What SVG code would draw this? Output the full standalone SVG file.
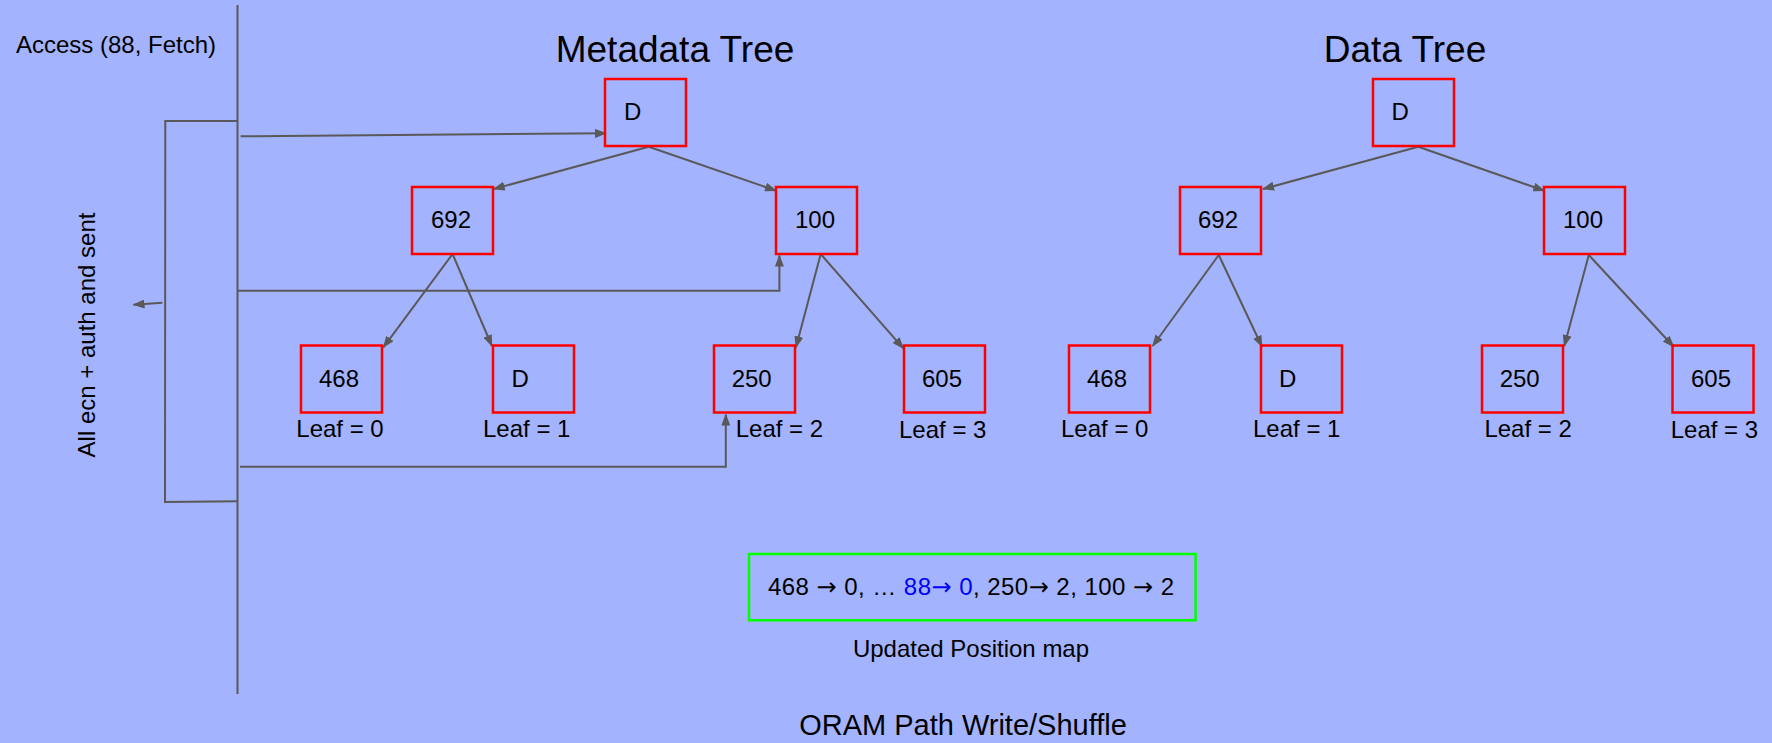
<svg xmlns="http://www.w3.org/2000/svg" width="1772" height="743" viewBox="0 0 1772 743">
<style>
text{font-family:"Liberation Sans",Arial,sans-serif;fill:#000}
.t{font-size:24px}
.c{text-anchor:middle}
.n{fill:none;stroke:#ff0000;stroke-width:2.5}
.e{fill:none;stroke:#595959;stroke-width:2}
.a{marker-end:url(#ah)}
.blue{fill:#0000ff}
.ar{font-family:"DejaVu Sans",sans-serif}
</style>
<defs>
<marker id="ah" markerUnits="userSpaceOnUse" markerWidth="12" markerHeight="9" refX="11" refY="4.5" orient="auto">
<path d="M0,0 L12,4.5 L0,9 z" fill="#595959"/>
</marker>
</defs>
<rect x="0" y="0" width="1772" height="743" fill="#a4b3fd"/>

<g id="titles">
<text x="675" y="62" class="c" font-size="37">Metadata Tree</text>
<text x="1405" y="62" class="c" font-size="37">Data Tree</text>
<text x="16" y="53" class="t">Access (88, Fetch)</text>
<text transform="translate(95,335) rotate(-90)" class="t c">All ecn + auth and sent</text>
<text x="963" y="735" class="c" font-size="29">ORAM Path Write/Shuffle</text>
</g>

<g id="connectors">
<line class="e" x1="237.5" y1="5" x2="237.5" y2="694"/>
<polyline class="e" points="238,121 165.3,121 165,502 238,501.3"/>
<line class="e a" x1="240.6" y1="136.3" x2="606" y2="133.3"/>
<polyline class="e a" points="238,290.7 779.4,290.7 779.4,255.5"/>
<polyline class="e a" points="240,466.7 725.8,466.7 725.8,414.5"/>
<line class="e a" x1="162.3" y1="302.7" x2="133.5" y2="304.8"/>

<line class="e a" x1="648.7" y1="146.7" x2="493.7" y2="189"/>
<line class="e a" x1="648.7" y1="146.7" x2="776" y2="190.7"/>
<line class="e a" x1="452.6" y1="254" x2="383.4" y2="347.3"/>
<line class="e a" x1="452.6" y1="254" x2="491.9" y2="346"/>
<line class="e a" x1="820.7" y1="254" x2="796" y2="347.3"/>
<line class="e a" x1="820.7" y1="254" x2="903.3" y2="348.3"/>

<line class="e a" x1="1418.3" y1="146.7" x2="1263" y2="189"/>
<line class="e a" x1="1418.3" y1="146.7" x2="1544.2" y2="190.7"/>
<line class="e a" x1="1218.75" y1="255" x2="1152.7" y2="346"/>
<line class="e a" x1="1218.75" y1="255" x2="1262" y2="346.7"/>
<line class="e a" x1="1588.8" y1="255" x2="1564.3" y2="346"/>
<line class="e a" x1="1588.8" y1="255" x2="1673.7" y2="346.7"/>
</g>

<g id="m-root"><rect class="n" x="605" y="79" width="81" height="67"/><text x="624" y="120" class="t">D</text></g>
<g id="m-692"><rect class="n" x="412" y="187" width="81" height="67"/><text x="451" y="228" class="t c">692</text></g>
<g id="m-100"><rect class="n" x="776" y="187" width="81" height="67"/><text x="815" y="228" class="t c">100</text></g>
<g id="m-468"><rect class="n" x="301" y="345.5" width="81" height="67"/><text x="339" y="386.5" class="t c">468</text><text x="296.3" y="437" class="t">Leaf = 0</text></g>
<g id="m-D"><rect class="n" x="493" y="345.5" width="81" height="67"/><text x="511.5" y="386.5" class="t">D</text><text x="483" y="437" class="t">Leaf = 1</text></g>
<g id="m-250"><rect class="n" x="714" y="345.5" width="81" height="67"/><text x="751.7" y="386.5" class="t c">250</text><text x="735.7" y="437" class="t">Leaf = 2</text></g>
<g id="m-605"><rect class="n" x="904" y="345.5" width="81" height="67"/><text x="942" y="386.5" class="t c">605</text><text x="899" y="437.5" class="t">Leaf = 3</text></g>

<g id="d-root"><rect class="n" x="1373" y="79" width="81" height="67"/><text x="1391.5" y="120" class="t">D</text></g>
<g id="d-692"><rect class="n" x="1180" y="187" width="81" height="67"/><text x="1218" y="228" class="t c">692</text></g>
<g id="d-100"><rect class="n" x="1544" y="187" width="81" height="67"/><text x="1583" y="228" class="t c">100</text></g>
<g id="d-468"><rect class="n" x="1069" y="345.5" width="81" height="67"/><text x="1107" y="386.5" class="t c">468</text><text x="1061" y="437" class="t">Leaf = 0</text></g>
<g id="d-D"><rect class="n" x="1261" y="345.5" width="81" height="67"/><text x="1279" y="386.5" class="t">D</text><text x="1253" y="437" class="t">Leaf = 1</text></g>
<g id="d-250"><rect class="n" x="1482" y="345.5" width="81" height="67"/><text x="1519.7" y="386.5" class="t c">250</text><text x="1484.4" y="437" class="t">Leaf = 2</text></g>
<g id="d-605"><rect class="n" x="1672.5" y="345.5" width="81" height="67"/><text x="1711" y="386.5" class="t c">605</text><text x="1670.7" y="437.5" class="t">Leaf = 3</text></g>

<g id="posmap">
<rect x="749" y="554" width="446.6" height="66.3" fill="none" stroke="#00ff00" stroke-width="2.5"/>
<text x="768" y="595" class="t" textLength="406" lengthAdjust="spacing">468 <tspan class="ar">→</tspan> 0, … <tspan class="blue">88<tspan class="ar">→</tspan> 0</tspan>, 250<tspan class="ar">→</tspan> 2, 100 <tspan class="ar">→</tspan> 2</text>
<text x="971" y="656.7" class="t c">Updated Position map</text>
</g>
</svg>
